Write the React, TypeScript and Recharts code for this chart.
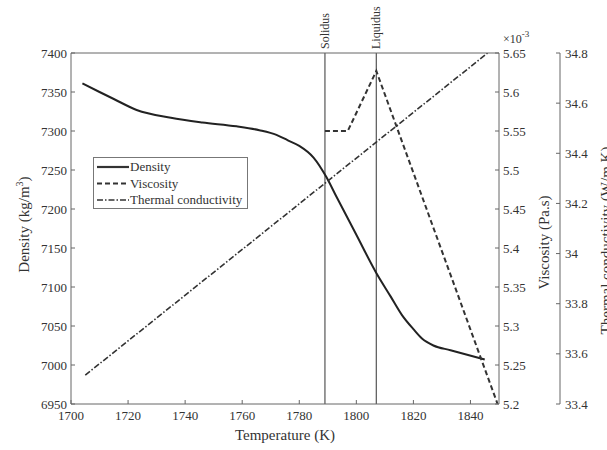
import React from "react";
import {
  LineChart,
  Line,
  XAxis,
  YAxis,
  ReferenceLine,
} from "recharts";

const FONT = '"Liberation Serif", "Times New Roman", serif';
const INK = "#333";
const AXIS = "#666";

// temperature (K) -> density (kg/m^3)
const densityTemp = [1704, 1710, 1715, 1723, 1735, 1746, 1758, 1766, 1772, 1776, 1780, 1785, 1789.5, 1793, 1800, 1807, 1812, 1816, 1820, 1823, 1827, 1833, 1845];
const densityVals = [7361, 7350, 7341, 7327, 7317, 7311, 7306, 7301, 7295, 7288, 7281, 7266, 7241, 7216, 7167, 7118, 7088, 7064, 7046, 7034, 7025, 7019, 7007];

// viscosity (x 1e-3 Pa.s)
const viscTemp = [1789, 1797, 1807, 1849.5];
const viscVals = [5.55, 5.55, 5.627, 5.2];

// thermal conductivity (W/m.K)
const condTemp = [1705, 1846];
const condVals = [33.515, 34.8];

const tempTicks = [1700, 1720, 1740, 1760, 1780, 1800, 1820, 1840];
const densityTicks = [6950, 7000, 7050, 7100, 7150, 7200, 7250, 7300, 7350, 7400];
const viscTicks = [5.2, 5.25, 5.3, 5.35, 5.4, 5.45, 5.5, 5.55, 5.6, 5.65];
const condTicks = [33.4, 33.6, 33.8, 34, 34.2, 34.4, 34.6, 34.8];

const solidus = 1789;
const liquidus = 1807;

const densityData = densityTemp.map((t, i) => ({ t, v: densityVals[i] }));
const viscData = viscTemp.map((t, i) => ({ t, v: viscVals[i] }));
const condData = condTemp.map((t, i) => ({ t, v: condVals[i] }));

const tickStyle = { fontSize: 13, fontFamily: FONT, fill: INK };

const legendItems = [
  { name: "Density", dash: undefined, width: 2.2 },
  { name: "Viscosity", dash: "5 3", width: 2 },
  { name: "Thermal conductivity", dash: "6 2 1.5 2", width: 1.6 },
];

// legend drawn as an overlay so it doesn't steal plot space
const LegendBox = () => (
  <svg width={155} height={52} style={{ position: "absolute", left: 93, top: 157 }}>
    <rect x={0.5} y={0.5} width={154} height={51} fill="#fff" stroke="#777" />
    {legendItems.map((it, i) => {
      const y = 10 + i * 16.5;
      return (
        <g key={it.name}>
          <line x1={4} x2={36} y1={y} y2={y} stroke={INK} strokeWidth={it.width} strokeDasharray={it.dash} />
          <text x={37} y={y + 4} fontSize={13} fontFamily={FONT} fill={INK}>
            {it.name}
          </text>
        </g>
      );
    })}
  </svg>
);

const refLabel = (text: string) => (props: any) => {
  const { viewBox } = props;
  const x = viewBox.x + 4;
  const y = viewBox.y - 4;
  return (
    <text x={x} y={y} transform={`rotate(-90 ${x} ${y})`} fontSize={12} fontFamily={FONT} fill={INK}>
      {text}
    </text>
  );
};

export default function App() {
  return (
    <div style={{ position: "absolute", left: 0, top: 0, width: 607, height: 450, background: "#fff", overflow: "hidden" }}>
      <LineChart width={607} height={450} margin={{ top: 52, right: 0, bottom: 0, left: 0 }}>
        <XAxis
          dataKey="t"
          type="number"
          domain={[1700, 1850]}
          ticks={tempTicks}
          allowDataOverflow
          height={46}
          stroke={AXIS}
          tickSize={-4}
          tickMargin={11}
          tick={tickStyle}
          label={(p: any) => {
            const cx = p.viewBox.x + p.viewBox.width / 2;
            return (
              <text x={cx} y={440} textAnchor="middle" fontSize={15} fontFamily={FONT} fill={INK}>
                Temperature (K)
              </text>
            );
          }}
        />
        <XAxis
          xAxisId="top"
          orientation="top"
          type="number"
          domain={[1700, 1850]}
          ticks={tempTicks}
          allowDataOverflow
          height={1}
          stroke={AXIS}
          tickSize={-4}
          tick={false}
        />
        <YAxis
          yAxisId="d"
          orientation="left"
          width={71}
          domain={[6950, 7400]}
          ticks={densityTicks}
          allowDataOverflow
          stroke={AXIS}
          tickSize={-4}
          tickMargin={8}
          tick={tickStyle}
          label={(p: any) => {
            const cy = p.viewBox.y + p.viewBox.height / 2 - 4;
            const x = 29;
            return (
              <text x={x} y={cy} transform={`rotate(-90 ${x} ${cy})`} textAnchor="middle" fontSize={15} fontFamily={FONT} fill={INK}>
                Density (kg/m
                <tspan dy={-6} fontSize={10}>3</tspan>
                <tspan dy={6}>)</tspan>
              </text>
            );
          }}
        />
        <YAxis
          yAxisId="r1"
          orientation="right"
          width={61}
          domain={[5.2, 5.65]}
          ticks={viscTicks}
          allowDataOverflow
          stroke={AXIS}
          tickSize={-4}
          tickMargin={8}
          tick={tickStyle}
          tickFormatter={(v: number) => String(v)}
          label={(p: any) => {
            const cy = p.viewBox.y + p.viewBox.height / 2 + 14;
            const x = 549;
            const ax = p.viewBox.x;
            return (
              <g>
                <text x={x} y={cy} transform={`rotate(-90 ${x} ${cy})`} textAnchor="middle" fontSize={15} fontFamily={FONT} fill={INK}>
                  Viscosity (Pa.s)
                </text>
                <text x={ax + 4} y={43} fontSize={12} fontFamily={FONT} fill={INK}>
                  ×10
                  <tspan dy={-6} fontSize={9}>-3</tspan>
                </text>
              </g>
            );
          }}
        />
        <YAxis
          yAxisId="r2"
          orientation="right"
          width={47}
          domain={[33.4, 34.8]}
          ticks={condTicks}
          allowDataOverflow
          stroke={AXIS}
          tickSize={-4}
          tickMargin={9}
          tick={tickStyle}
          label={(p: any) => {
            const cy = p.viewBox.y + p.viewBox.height / 2 + 12;
            const x = 611;
            return (
              <text x={x} y={cy} transform={`rotate(-90 ${x} ${cy})`} textAnchor="middle" fontSize={15} fontFamily={FONT} fill={INK}>
                Thermal conductivity (W/m.K)
              </text>
            );
          }}
        />
        <ReferenceLine yAxisId="d" x={solidus} stroke="#555" strokeWidth={1.2} label={refLabel("Solidus")} />
        <ReferenceLine yAxisId="d" x={liquidus} stroke="#555" strokeWidth={1.2} label={refLabel("Liquidus")} />
        <Line
          yAxisId="d"
          data={densityData}
          dataKey="v"
          type="monotone"
          stroke="#222"
          strokeWidth={2}
          dot={false}
          isAnimationActive={false}
        />
        <Line
          yAxisId="r1"
          data={viscData}
          dataKey="v"
          type="linear"
          stroke="#333"
          strokeWidth={2}
          strokeDasharray="5 3"
          dot={false}
          isAnimationActive={false}
        />
        <Line
          yAxisId="r2"
          data={condData}
          dataKey="v"
          type="linear"
          stroke="#333"
          strokeWidth={1.6}
          strokeDasharray="6 2 1.5 2"
          dot={false}
          isAnimationActive={false}
        />
      </LineChart>
      <LegendBox />
    </div>
  );
}
